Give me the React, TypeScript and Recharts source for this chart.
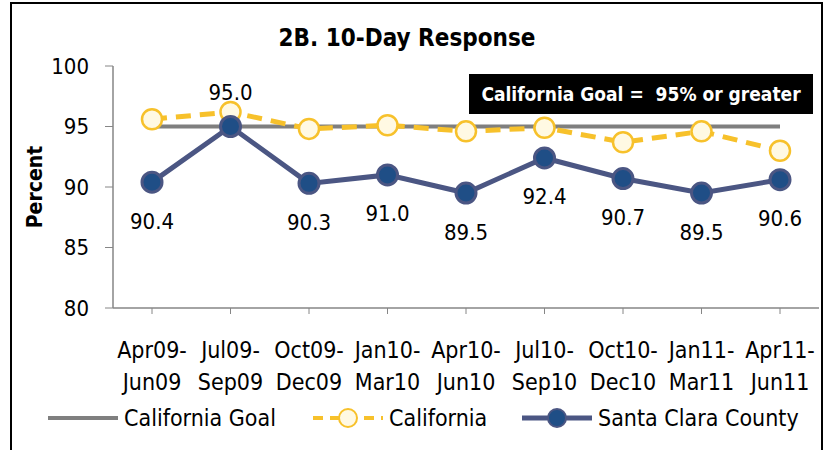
import React from 'react';
import {
  LineChart,
  Line,
  XAxis,
  YAxis,
  Legend,
  Label,
  LabelList,
} from 'recharts';

// --- Data ---
const periodStart = ['Apr09-', 'Jul09-', 'Oct09-', 'Jan10-', 'Apr10-', 'Jul10-', 'Oct10-', 'Jan11-', 'Apr11-'];
const periodEnd = ['Jun09', 'Sep09', 'Dec09', 'Mar10', 'Jun10', 'Sep10', 'Dec10', 'Mar11', 'Jun11'];
const californiaGoal = [95, 95, 95, 95, 95, 95, 95, 95, 95];
const california = [95.6, 96.2, 94.8, 95.1, 94.6, 94.9, 93.7, 94.6, 93.0];
const santaClara = [90.4, 95.0, 90.3, 91.0, 89.5, 92.4, 90.7, 89.5, 90.6];
const yTicks = [80, 85, 90, 95, 100];

const FONT = '"Liberation Sans Narrow", "DejaVu Sans Condensed", "Open Sans", sans-serif';

const GOAL_COLOR = '#7F7F7F';
const CA_COLOR = '#F7C12B';
const CA_FILL = '#FFF9E3';
const SC_LINE = '#4B5683';
const SC_DOT = '#1F4E86';

const data = periodStart.map((p, i) => ({
  period: p + periodEnd[i],
  goal: californiaGoal[i],
  california: california[i],
  santaClara: santaClara[i],
}));

// two-line category tick
const PeriodTick = (props: any) => {
  const { x, y, index } = props;
  return (
    <g transform={`translate(${x},${y})`}>
      <text textAnchor="middle" fontFamily={FONT} fontSize={23} fill="#000">
        <tspan x={0} dy={42}>{periodStart[index]}</tspan>
        <tspan x={0} dy={32}>{periodEnd[index]}</tspan>
      </text>
    </g>
  );
};

// Santa Clara labels: below each point except Jul09 (above)
const ScLabel = (props: any) => {
  const { x, y, value, index } = props;
  const dy = index === 1 ? -34 : 39;
  return (
    <text x={x} y={y + dy} textAnchor="middle" dominantBaseline="central" fontFamily={FONT} fontSize={22} fill="#000">
      {Number(value).toFixed(1)}
    </text>
  );
};

const LegendContent = () => {
  const item = (x: number, kind: 'goal' | 'ca' | 'sc', text: string) => (
    <g key={kind} transform={`translate(${x},0)`}>
      {kind === 'goal' && <line x1={0} x2={70} y1={16} y2={16} stroke={GOAL_COLOR} strokeWidth={4} />}
      {kind === 'ca' && (
        <>
          <line x1={0} x2={70} y1={16} y2={16} stroke={CA_COLOR} strokeWidth={4} strokeDasharray="10 7" />
          <circle cx={35} cy={16} r={9} fill={CA_FILL} stroke={CA_COLOR} strokeWidth={2} />
        </>
      )}
      {kind === 'sc' && (
        <>
          <line x1={0} x2={70} y1={16} y2={16} stroke={SC_LINE} strokeWidth={5} />
          <circle cx={35} cy={16} r={9} fill={SC_DOT} stroke={SC_LINE} strokeWidth={2} />
        </>
      )}
      <text x={76} y={16} dominantBaseline="central" fontFamily={FONT} fontSize={23} fill="#000">{text}</text>
    </g>
  );
  return (
    <svg width={805} height={34} style={{ display: 'block' }}>
      {item(36, 'goal', 'California Goal')}
      {item(301, 'ca', 'California')}
      {item(510, 'sc', 'Santa Clara County')}
    </svg>
  );
};

export default function App() {
  return (
    <div
      style={{
        position: 'absolute',
        left: 10,
        top: 2,
        width: 809,
        height: 460,
        border: '2px solid #000',
        background: '#fff',
        overflow: 'hidden',
      }}
    >
      <div
        style={{
          position: 'absolute',
          top: 20,
          left: 0,
          width: 790,
          textAlign: 'center',
          fontFamily: FONT,
          fontWeight: 'bold',
          fontSize: 24,
        }}
      >
        2B. 10-Day Response
      </div>
      <div
        style={{
          position: 'absolute',
          left: 457,
          top: 70,
          width: 344,
          height: 40,
          background: '#000',
          color: '#fff',
          fontFamily: FONT,
          fontWeight: 'bold',
          fontSize: 19,
          lineHeight: '40px',
          textAlign: 'center',
          zIndex: 2,
        }}
      >
        California Goal =&nbsp; 95% or greater
      </div>
      <LineChart width={809} height={446} data={data} margin={{ top: 62, right: 2, left: 0, bottom: 12 }}>
        <XAxis
          dataKey="period"
          interval={0}
          tick={<PeriodTick />}
          tickLine={{ stroke: '#868686' }}
          tickSize={6}
          axisLine={{ stroke: '#868686', strokeWidth: 1.5 }}
          padding={{ left: 39, right: 39 }}
          height={96}
        />
        <YAxis
          domain={[80, 100]}
          ticks={yTicks}
          interval={0}
          width={101}
          tick={{ fontFamily: FONT, fontSize: 22, fill: '#000' }}
          tickLine={{ stroke: '#868686' }}
          tickSize={8}
          tickMargin={16}
          axisLine={{ stroke: '#868686', strokeWidth: 1.5 }}
        >
          <Label
            value="Percent"
            angle={-90}
            position="insideLeft"
            dx={18}
            style={{ textAnchor: 'middle', fontFamily: FONT, fontWeight: 'bold', fontSize: 21, fill: '#000' }}
          />
        </YAxis>
        <Legend
          verticalAlign="bottom"
          content={<LegendContent />}
          wrapperStyle={{ position: 'absolute', left: 0, top: 398 }}
        />
        <Line
          dataKey="goal"
          name="California Goal"
          stroke={GOAL_COLOR}
          strokeWidth={4}
          dot={false}
          activeDot={false}
          isAnimationActive={false}
        />
        <Line
          dataKey="california"
          name="California"
          stroke={CA_COLOR}
          strokeWidth={5}
          strokeDasharray="15 9"
          dot={{ r: 10, fill: CA_FILL, stroke: CA_COLOR, strokeWidth: 2.5, strokeDasharray: '' }}
          isAnimationActive={false}
        />
        <Line
          dataKey="santaClara"
          name="Santa Clara County"
          stroke={SC_LINE}
          strokeWidth={5}
          dot={{ r: 10, fill: SC_DOT, stroke: SC_LINE, strokeWidth: 3 }}
          isAnimationActive={false}
        >
          <LabelList dataKey="santaClara" content={<ScLabel />} />
        </Line>
      </LineChart>
    </div>
  );
}
